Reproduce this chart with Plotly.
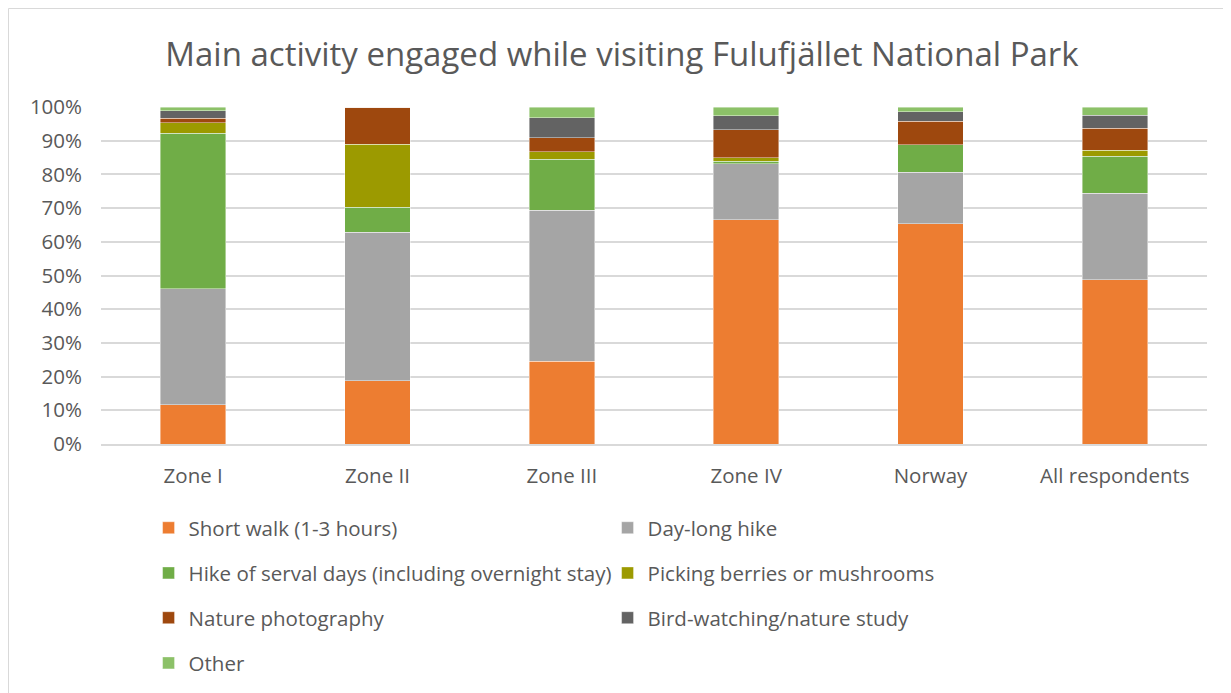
import plotly.graph_objects as go

categories = ["Zone I", "Zone II", "Zone III", "Zone IV", "Norway", "All respondents"]

short_walk = [11.6, 18.7, 24.6, 66.5, 65.3, 48.7]
day_long_hike = [34.4, 44.2, 44.8, 16.6, 15.3, 25.7]
hike_several_days = [46.2, 7.4, 15.1, 0.8, 8.2, 11.0]
picking_berries = [3.1, 18.6, 2.2, 1.0, 0.0, 1.8]
nature_photography = [1.4, 11.1, 4.2, 8.4, 7.0, 6.5]
bird_watching = [2.2, 0.0, 5.9, 4.1, 2.8, 3.8]
other = [1.1, 0.0, 3.2, 2.6, 1.4, 2.5]

series = [
    ("Short walk (1-3 hours)", short_walk, "#ED7D31", "legend"),
    ("Day-long hike", day_long_hike, "#A5A5A5", "legend"),
    ("Hike of serval days (including overnight stay)", hike_several_days, "#70AD47", "legend2"),
    ("Picking berries or mushrooms", picking_berries, "#9C9A00", "legend2"),
    ("Nature photography", nature_photography, "#9E480E", "legend3"),
    ("Bird-watching/nature study", bird_watching, "#636363", "legend3"),
    ("Other", other, "#8CC168", "legend4"),
]

fig = go.Figure()
for name, vals, color, leg in series:
    fig.add_trace(go.Bar(
        x=categories, y=[v / 100 for v in vals], name=name,
        marker=dict(color=color, line=dict(color="rgba(255,255,255,0.6)", width=0.7)),
        legend=leg,
    ))

font_color = "#595959"
L, T, W, H = 93, 99, 1106, 337
leg_common = dict(orientation="h", x=0.043, xanchor="left", yanchor="middle",
                  entrywidth=414, entrywidthmode="pixels",
                  font=dict(size=20.5, color=font_color, family="Open Sans"),
                  bgcolor="rgba(0,0,0,0)", traceorder="normal")

fig.update_layout(
    barmode="stack",
    bargap=0.645,
    width=1231, height=693,
    margin=dict(l=L, r=1231 - L - W, t=T, b=693 - T - H),
    paper_bgcolor="white", plot_bgcolor="white",
    font=dict(family="Open Sans", color=font_color),
    title=dict(text="Main activity engaged while visiting Fulufjället National Park",
               x=(614 - L) / W, xref="paper", xanchor="center", y=1 - 46 / 693, yanchor="middle",
               font=dict(size=33, color=font_color, family="Open Sans")),
    legend=dict(**leg_common, y=-0.249),
    legend2=dict(**leg_common, y=-0.383),
    legend3=dict(**leg_common, y=-0.516),
    legend4=dict(**leg_common, y=-0.650),
    xaxis=dict(tickfont=dict(size=20.5, color=font_color), showline=True,
               linecolor="#D9D9D9", linewidth=1.5, ticks="", ticklabelstandoff=13),
    yaxis=dict(range=[0, 1], dtick=0.1, tickformat=".0%", showgrid=True,
               gridcolor="#D9D9D9", gridwidth=1.5, zeroline=False,
               tickfont=dict(size=20.5, color=font_color), ticklabelstandoff=18),
    shapes=[dict(type="rect", xref="paper", yref="paper",
                 x0=(0.5 - L) / W, x1=(1220 - L) / W,
                 y0=(T + H - 700) / H, y1=(T + H - 0.5) / H,
                 line=dict(color="#D9D9D9", width=1), layer="below")],
)

fig.write_html("out.html")
